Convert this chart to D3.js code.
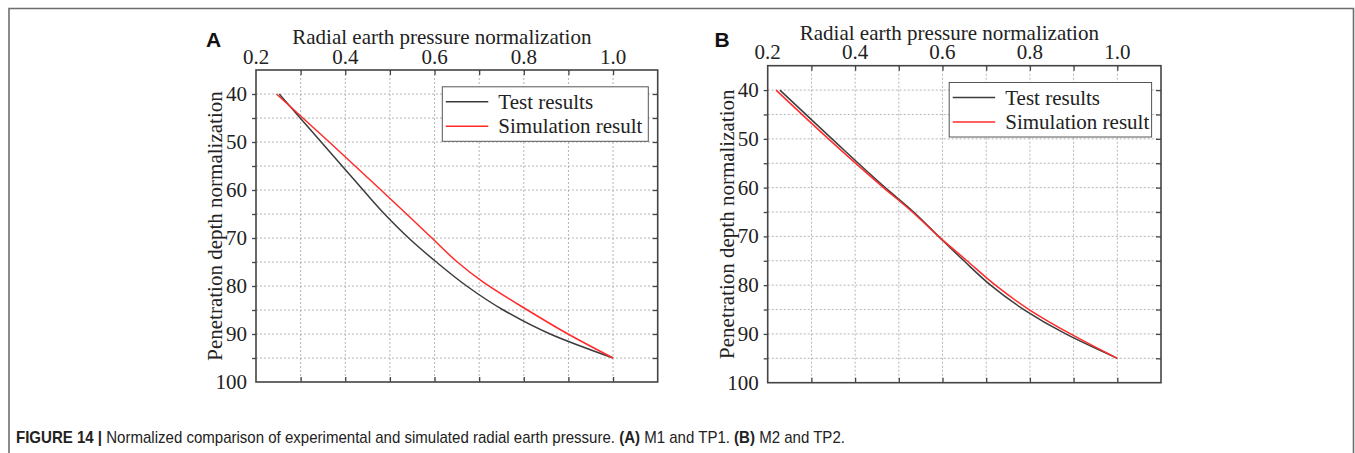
<!DOCTYPE html>
<html>
<head>
<meta charset="utf-8">
<script src="https://cdn.jsdelivr.net/npm/d3@7"></script>
<style>
  html, body { margin: 0; padding: 0; background: #fff; }
  svg { display: block; }
</style>
</head>
<body>
<svg id="fig" width="1355" height="453"></svg>
<script>
// Values: x = radial earth pressure (normalized) at each depth
const xTicks = [0.2, 0.4, 0.6, 0.8, 1.0];
const yTicks = [40, 50, 60, 70, 80, 90, 100];
const xDomain = [0.2, 1.1];
const yDomain = [35, 100];
const seriesNames = ["Test results", "Simulation result"];

// Panel A
const depthTestA = [40, 45, 50, 55, 60, 65, 70, 75, 80, 85, 90, 95];
const testA      = [0.252, 0.299, 0.346, 0.393, 0.440, 0.488, 0.542, 0.604, 0.672, 0.754, 0.859, 1.0];
const depthSimA  = [40, 50, 60, 70, 75, 79, 85, 90, 95];
const simA       = [0.246, 0.364, 0.480, 0.594, 0.651, 0.706, 0.808, 0.899, 1.0];

// Panel B
const depthTestB = [40, 50, 60, 65, 70, 75, 80, 85, 90, 95];
const testB      = [0.228, 0.347, 0.469, 0.534, 0.591, 0.649, 0.710, 0.786, 0.882, 1.0];
const depthSimB  = [40, 50, 60, 65, 70, 75, 80, 85, 90, 95];
const simB       = [0.219, 0.339, 0.465, 0.531, 0.591, 0.656, 0.721, 0.798, 0.893, 1.0];

const colTest = "#3c3c3c", colSim = "#ff2b2b";
const serif = "'Liberation Serif', 'Times New Roman', serif";
const sans = "'Liberation Sans', Arial, sans-serif";
const fs = 21;

const svg = d3.select("#fig");

// outer frame of the figure box
svg.append("path")
  .attr("d", "M9,453 V8.5 H1353.5 V453")
  .attr("fill", "none").attr("stroke", "#6e6e6e").attr("stroke-width", 1.6);

function panel(opt) {
  const W = opt.w, H = opt.h;
  const g = svg.append("g").attr("transform", `translate(${opt.left},${opt.top})`);
  const x = d3.scaleLinear().domain(xDomain).range([0, W]);
  const y = d3.scaleLinear().domain(yDomain).range([0, H]);

  const gridX = d3.range(3, 11).map(d => d / 10);
  const gridY = d3.range(40, 100, 5);

  // dashed grid
  g.append("g").selectAll("line").data(gridX).join("line")
    .attr("x1", d => x(d)).attr("x2", d => x(d)).attr("y1", 0).attr("y2", H)
    .attr("stroke", "#b4b4b4").attr("stroke-width", 1).attr("stroke-dasharray", "2,2");
  g.append("g").selectAll("line").data(gridY).join("line")
    .attr("y1", d => y(d)).attr("y2", d => y(d)).attr("x1", 0).attr("x2", W)
    .attr("stroke", "#b4b4b4").attr("stroke-width", 1).attr("stroke-dasharray", "2,2");

  // axes: labels on top and left, inward ticks elsewhere
  const top = g.append("g").call(d3.axisTop(x).tickValues(gridX).tickSize(-5).tickFormat(""));
  const bot = g.append("g").attr("transform", `translate(0,${H})`)
    .call(d3.axisBottom(x).tickValues(gridX).tickSize(-5).tickFormat(""));
  const left = g.append("g").call(d3.axisLeft(y).tickValues(gridY).tickSize(4).tickFormat(""));
  const right = g.append("g").attr("transform", `translate(${W},0)`)
    .call(d3.axisRight(y).tickValues(gridY).tickSize(-5).tickFormat(""));
  [top, bot, left, right].forEach(a => {
    a.select(".domain").remove();
    a.selectAll("line").attr("stroke", "#444").attr("stroke-width", 1.3);
  });

  g.append("g").selectAll("text").data(xTicks).join("text")
    .attr("x", d => x(d)).attr("y", -6.5).attr("text-anchor", "middle")
    .attr("font-family", serif).attr("font-size", fs).attr("fill", "#222")
    .text(d => d.toFixed(1));
  g.append("g").selectAll("text").data(yTicks).join("text")
    .attr("x", -9).attr("y", d => y(d) + 7).attr("text-anchor", "end")
    .attr("font-family", serif).attr("font-size", fs).attr("fill", "#222")
    .text(d => d);

  // curves (x is a function of depth)
  const line = d3.line().x(d => x(d[0])).y(d => y(d[1])).curve(d3.curveMonotoneY);
  g.append("path").datum(opt.test.map((v, i) => [v, opt.depthTest[i]]))
    .attr("d", line).attr("fill", "none").attr("stroke", colTest).attr("stroke-width", 1.5);
  g.append("path").datum(opt.sim.map((v, i) => [v, opt.depthSim[i]]))
    .attr("d", line).attr("fill", "none").attr("stroke", colSim).attr("stroke-width", 1.5);

  // plot frame
  g.append("rect").attr("width", W).attr("height", H)
    .attr("fill", "none").attr("stroke", "#444").attr("stroke-width", 1.6);

  // legend
  const lg = g.append("g").attr("transform", `translate(${W - 9.4 - opt.legW},16.8)`);
  lg.append("rect").attr("width", opt.legW).attr("height", 54.5)
    .attr("fill", "#fff").attr("stroke", "#555").attr("stroke-width", 1);
  [colTest, colSim].forEach((c, i) => {
    const cy = 15 + i * 24.5;
    lg.append("line").attr("x1", 3.5).attr("x2", 46).attr("y1", cy).attr("y2", cy)
      .attr("stroke", c).attr("stroke-width", 1.5);
    lg.append("text").attr("x", 56).attr("y", cy + 7)
      .attr("font-family", serif).attr("font-size", fs).attr("fill", "#222")
      .text(seriesNames[i]);
  });

  // titles
  g.append("text").attr("x", W / 2 - 15).attr("y", -26)
    .attr("text-anchor", "middle").attr("font-family", serif).attr("font-size", fs).attr("fill", "#222")
    .text("Radial earth pressure normalization");
  g.append("text").attr("transform", `translate(-34,${H / 2}) rotate(-90)`)
    .attr("text-anchor", "middle").attr("font-family", serif).attr("font-size", fs).attr("fill", "#222")
    .text("Penetration depth normalization");
  g.append("text").attr("x", opt.labelX - opt.left).attr("y", 46.7 - opt.top)
    .attr("font-family", sans).attr("font-weight", 700).attr("font-size", 21).attr("fill", "#111")
    .text(opt.label);
}

panel({ left: 256, top: 70, w: 401.7, h: 312, legW: 206, label: "A", labelX: 206,
  depthTest: depthTestA, test: testA, depthSim: depthSimA, sim: simA });
panel({ left: 767.7, top: 65.7, w: 393.3, h: 317, legW: 202.4, label: "B", labelX: 714.5,
  depthTest: depthTestB, test: testB, depthSim: depthSimB, sim: simB });

// caption (slightly condensed face in the original)
const cap = svg.append("text").attr("transform", "translate(16,443.3) scale(0.94,1)")
  .attr("font-family", sans).attr("font-size", 16).attr("fill", "#222");
cap.append("tspan").attr("font-weight", 700).text("FIGURE 14 | ");
cap.append("tspan").text("Normalized comparison of experimental and simulated radial earth pressure. ");
cap.append("tspan").attr("font-weight", 700).text("(A)");
cap.append("tspan").text(" M1 and TP1. ");
cap.append("tspan").attr("font-weight", 700).text("(B)");
cap.append("tspan").text(" M2 and TP2.");
</script>
</body>
</html>
